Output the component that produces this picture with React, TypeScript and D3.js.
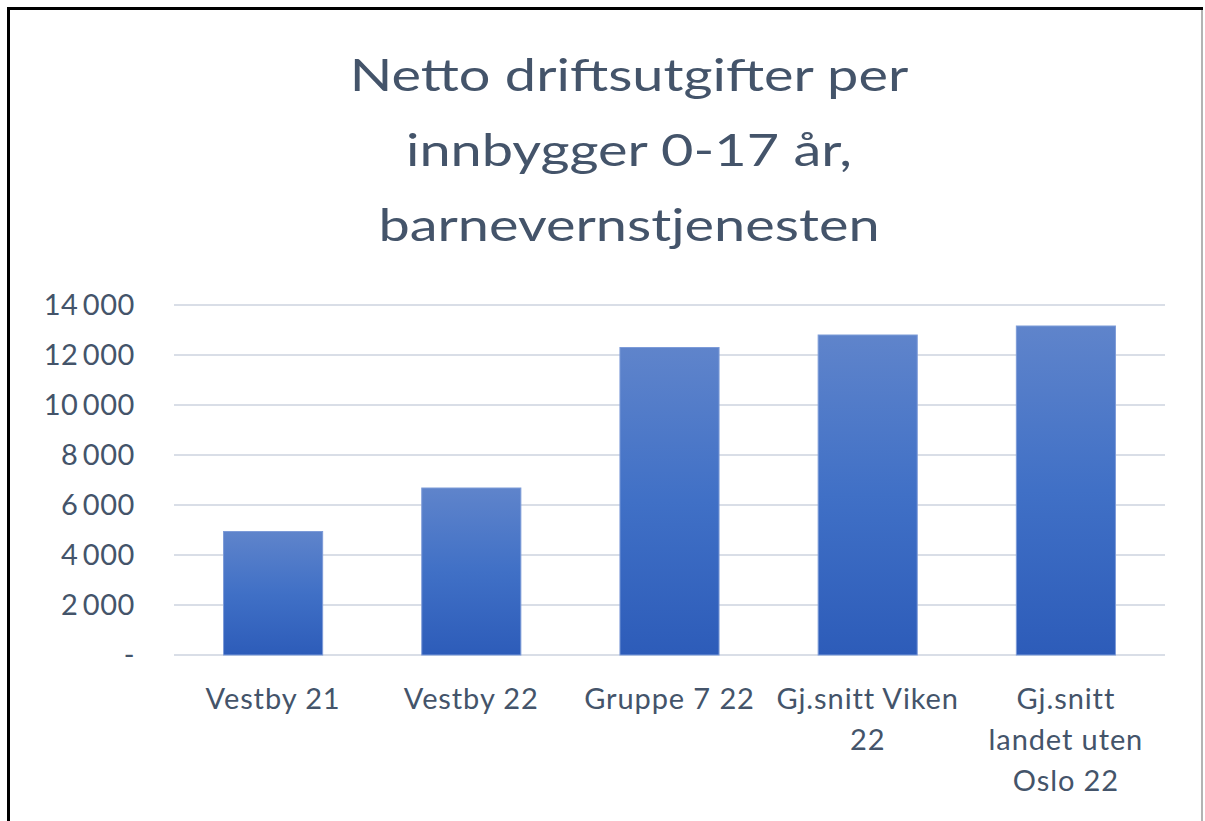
import React, { useEffect, useRef } from 'react';
import * as d3 from 'd3';

// Chart data
const categories = ['Vestby 21', 'Vestby 22', 'Gruppe 7 22', 'Gj.snitt Viken 22', 'Gj.snitt landet uten Oslo 22'];
const categoryLines = [['Vestby 21'], ['Vestby 22'], ['Gruppe 7 22'], ['Gj.snitt Viken', '22'], ['Gj.snitt', 'landet uten', 'Oslo 22']];
const values = [4940, 6680, 12300, 12800, 13160];
const yTicks = [0, 2000, 4000, 6000, 8000, 10000, 12000, 14000];
const titleLines = ['Netto driftsutgifter per', 'innbygger 0-17 år,', 'barnevernstjenesten'];

const W = 1205;
const H = 821;
const FONT = 'Lato, "Open Sans", sans-serif';
const TEXT = '#44546A';

const nbFormat = d3.formatLocale({ decimal: ',', thousands: '\u2009', grouping: [3], currency: ['', ''] }).format(',d');

const Chart = () => {
  const svgRef = useRef<SVGSVGElement>(null);

  useEffect(() => {
    const svg = d3.select(svgRef.current);
    svg.selectAll('*').remove();

    const plot = { left: 174, right: 1165, top: 305, bottom: 655 };

    const x = d3.scaleBand<string>()
      .domain(categories)
      .range([plot.left, plot.right])
      .paddingInner(0.5)
      .paddingOuter(0.25);

    const y = d3.scaleLinear()
      .domain([0, 14000])
      .range([plot.bottom, plot.top]);

    // gradient for the bars
    const grad = svg.append('defs').append('linearGradient')
      .attr('id', 'barGrad')
      .attr('x1', 0).attr('y1', 0).attr('x2', 0).attr('y2', 1);
    grad.append('stop').attr('offset', '0%').attr('stop-color', '#5f84cb');
    grad.append('stop').attr('offset', '50%').attr('stop-color', '#4070c6');
    grad.append('stop').attr('offset', '100%').attr('stop-color', '#2d5cb9');

    // frame
    svg.append('rect').attr('x', 0).attr('y', 0).attr('width', W).attr('height', H).attr('fill', '#fff');
    svg.append('line').attr('x1', 1202).attr('x2', 1202).attr('y1', 8).attr('y2', H)
      .attr('stroke', '#9a9a9a').attr('stroke-width', 1.5);
    svg.append('line').attr('x1', 7).attr('x2', 1203).attr('y1', 8.5).attr('y2', 8.5)
      .attr('stroke', '#000').attr('stroke-width', 3);
    svg.append('line').attr('x1', 8.5).attr('x2', 8.5).attr('y1', 7).attr('y2', H)
      .attr('stroke', '#000').attr('stroke-width', 3);

    // title - the original font runs wider, so stretch each line a bit
    const titleG = svg.append('g')
      .style('font-family', FONT)
      .style('font-size', '44px')
      .attr('fill', TEXT);
    titleG.selectAll('text')
      .data(titleLines)
      .enter()
      .append('text')
      .attr('x', 629)
      .attr('y', (d, i) => 91 + i * 75)
      .attr('text-anchor', 'middle')
      .text(d => d)
      .each(function () {
        const el = this as SVGTextElement;
        const len = el.getComputedTextLength();
        d3.select(el).attr('textLength', len * 1.27).attr('lengthAdjust', 'spacingAndGlyphs');
      });

    // gridlines
    svg.append('g')
      .selectAll('line')
      .data(yTicks)
      .enter()
      .append('line')
      .attr('x1', plot.left)
      .attr('x2', plot.right)
      .attr('y1', d => y(d))
      .attr('y2', d => y(d))
      .attr('stroke', '#d9dee7')
      .attr('stroke-width', 2);

    // y labels
    svg.append('g')
      .selectAll('text')
      .data(yTicks)
      .enter()
      .append('text')
      .attr('x', 135)
      .attr('y', d => y(d))
      .attr('dy', '0.36em')
      .attr('text-anchor', 'end')
      .style('font-family', FONT)
      .style('font-size', '29px')
      .style('letter-spacing', '0.6px')
      .attr('fill', TEXT)
      .text(d => (d === 0 ? '-' : nbFormat(d)));

    // bars
    svg.append('g')
      .selectAll('rect')
      .data(values)
      .enter()
      .append('rect')
      .attr('x', (d, i) => x(categories[i])!)
      .attr('y', d => y(d))
      .attr('width', x.bandwidth())
      .attr('height', d => y(0) - y(d))
      .attr('fill', 'url(#barGrad)')
      .attr('stroke', '#7d9bd8')
      .attr('stroke-width', 1);

    // category labels
    const cat = svg.append('g')
      .selectAll('text')
      .data(categories)
      .enter()
      .append('text')
      .attr('text-anchor', 'middle')
      .style('font-family', FONT)
      .style('font-size', '29px')
      .style('letter-spacing', '0.9px')
      .attr('fill', TEXT);
    cat.selectAll('tspan')
      .data((d, i) => categoryLines[i].map(line => ({ line, cx: x(d)! + x.bandwidth() / 2 })))
      .enter()
      .append('tspan')
      .attr('x', d => d.cx)
      .attr('y', (d, i) => 709 + i * 41)
      .text(d => d.line);
  }, []);

  return <svg ref={svgRef} width={W} height={H} style={{ position: 'absolute', left: 0, top: 0 }}></svg>;
};

export default function App() {
  return <Chart />;
}
